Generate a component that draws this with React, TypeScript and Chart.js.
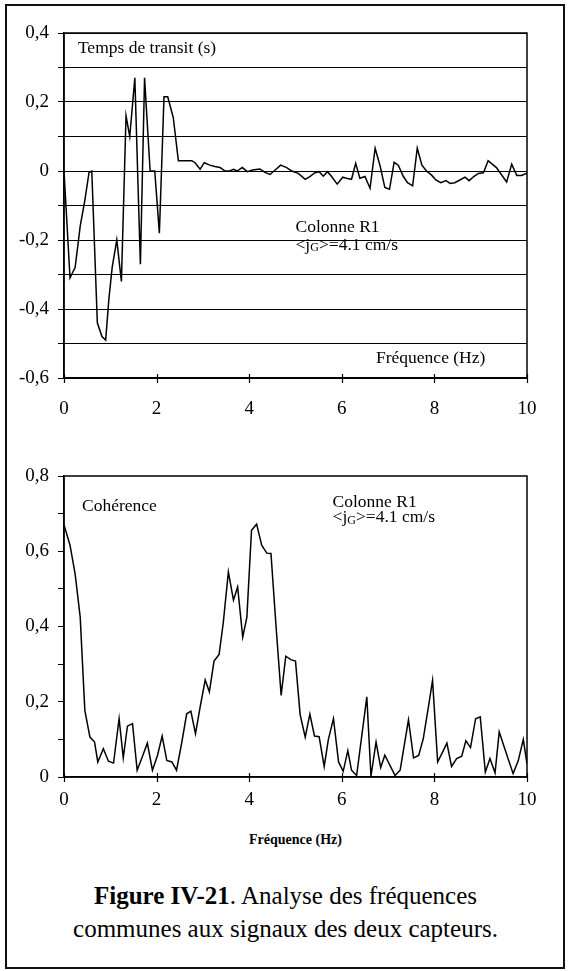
import React, { useEffect, useRef } from 'react';
import { Chart, registerables } from 'chart.js';

Chart.register(...registerables);

// ---------- data ----------
const transitFreq = [0, 0.13, 0.24, 0.35, 0.45, 0.54, 0.6, 0.72, 0.82, 0.9, 0.97, 1.04, 1.14, 1.24, 1.34, 1.42, 1.53, 1.65, 1.74, 1.86, 1.96, 2.06, 2.16, 2.24, 2.36, 2.47, 2.6, 2.76, 2.83, 2.94, 3.03, 3.15, 3.26, 3.37, 3.48, 3.58, 3.66, 3.74, 3.85, 3.96, 4.07, 4.23, 4.34, 4.45, 4.56, 4.68, 4.81, 4.92, 5.06, 5.21, 5.31, 5.42, 5.51, 5.6, 5.69, 5.78, 5.9, 6.02, 6.1, 6.21, 6.3, 6.39, 6.5, 6.61, 6.72, 6.83, 6.93, 7.03, 7.13, 7.22, 7.33, 7.42, 7.53, 7.63, 7.73, 7.83, 7.94, 8.03, 8.14, 8.25, 8.34, 8.44, 8.55, 8.66, 8.75, 8.85, 8.95, 9.06, 9.16, 9.34, 9.56, 9.67, 9.78, 9.88, 10.0];
const transitValues = [0, -0.31, -0.28, -0.16, -0.085, -0.005, 0, -0.44, -0.48, -0.49, -0.37, -0.28, -0.2, -0.32, 0.16, 0.1, 0.27, -0.27, 0.27, 0, 0, -0.18, 0.215, 0.215, 0.155, 0.03, 0.03, 0.03, 0.024, 0.005, 0.024, 0.017, 0.013, 0.01, 0, 0, 0.005, 0, 0.01, -0.002, 0.003, 0.006, -0.004, -0.01, 0.003, 0.017, 0.01, 0, -0.007, -0.024, -0.016, -0.005, -0.002, -0.015, -0.002, -0.016, -0.038, -0.018, -0.021, -0.024, 0.022, -0.021, -0.016, -0.05, 0.066, 0.013, -0.048, -0.053, 0.025, 0.017, -0.016, -0.034, -0.043, 0.066, 0.017, 0, -0.012, -0.026, -0.034, -0.028, -0.036, -0.034, -0.026, -0.018, -0.028, -0.016, -0.007, -0.005, 0.03, 0.01, -0.032, 0.02, -0.013, -0.013, -0.006];

const cohFreq = [0, 0.13, 0.24, 0.35, 0.45, 0.56, 0.66, 0.73, 0.85, 0.96, 1.07, 1.19, 1.28, 1.37, 1.48, 1.58, 1.69, 1.8, 1.91, 2.02, 2.12, 2.22, 2.33, 2.43, 2.54, 2.65, 2.74, 2.84, 2.94, 3.05, 3.14, 3.24, 3.35, 3.44, 3.55, 3.66, 3.75, 3.86, 3.95, 4.05, 4.16, 4.27, 4.38, 4.47, 4.58, 4.69, 4.79, 4.9, 5.0, 5.1, 5.21, 5.31, 5.41, 5.51, 5.62, 5.71, 5.82, 5.93, 6.03, 6.13, 6.21, 6.32, 6.43, 6.54, 6.63, 6.74, 6.84, 6.93, 7.04, 7.15, 7.26, 7.44, 7.55, 7.66, 7.76, 7.87, 7.96, 8.07, 8.16, 8.27, 8.37, 8.48, 8.59, 8.68, 8.78, 8.89, 8.99, 9.1, 9.2, 9.31, 9.4, 9.52, 9.7, 9.81, 9.92, 10.0];
const cohValues = [0.67, 0.616, 0.54, 0.425, 0.177, 0.106, 0.093, 0.04, 0.075, 0.042, 0.037, 0.155, 0.051, 0.135, 0.142, 0.018, 0.053, 0.09, 0.018, 0.058, 0.109, 0.044, 0.04, 0.018, 0.089, 0.168, 0.175, 0.115, 0.186, 0.258, 0.226, 0.308, 0.326, 0.41, 0.545, 0.47, 0.505, 0.372, 0.425, 0.656, 0.672, 0.616, 0.595, 0.594, 0.4, 0.217, 0.321, 0.312, 0.308, 0.166, 0.106, 0.167, 0.109, 0.107, 0.028, 0.1, 0.155, 0.04, 0.015, 0.07, 0.018, 0.004, 0.108, 0.213, 0.002, 0.093, 0.025, 0.058, 0.031, 0.004, 0.018, 0.152, 0.051, 0.057, 0.102, 0.186, 0.257, 0.04, 0.062, 0.09, 0.028, 0.049, 0.055, 0.096, 0.078, 0.155, 0.16, 0.013, 0.049, 0.011, 0.12, 0.075, 0.009, 0.043, 0.1, 0.035];

const xMin = 0;
const xMax = 10;
const xStep = 2;
const topYMin = -0.6;
const topYMax = 0.4;
const botYMin = 0;
const botYMax = 0.8;
const yStep = 0.1;

const SERIF = '"Liberation Serif", "Times New Roman", serif';
const TICK_SIZE = 19;
const NOTE_SIZE = 17.5;

type Note = { x: number; y: number; text: string; align?: CanvasTextAlign; sub?: [string, string, string]; bold?: boolean; size?: number };

function fmt(v: number): string {
  const r = Math.round(v * 10) / 10;
  return String(r === 0 ? 0 : r).replace('.', ',');
}

function makePlugin(notes: Note[]) {
  return {
    id: 'frameNotes',
    afterDraw(chart: any) {
      const { ctx, chartArea: a, scales } = chart;
      ctx.save();
      ctx.strokeStyle = '#000';
      ctx.lineWidth = 1.5;
      ctx.strokeRect(a.left, a.top, a.right - a.left, a.bottom - a.top);
      const xs = scales.x;
      ctx.lineWidth = 1.2;
      for (const t of xs.ticks) {
        const px = Math.round(xs.getPixelForValue(t.value)) + 0.5;
        ctx.beginPath();
        ctx.moveTo(px, a.bottom - 4);
        ctx.lineTo(px, a.bottom + 5);
        ctx.stroke();
      }
      ctx.fillStyle = '#000';
      ctx.textBaseline = 'middle';
      for (const n of notes) {
        const size = n.size ?? NOTE_SIZE;
        const px = xs.getPixelForValue(n.x);
        const py = scales.y.getPixelForValue(n.y);
        ctx.textAlign = n.align ?? 'left';
        if (n.sub) {
          ctx.textAlign = 'left';
          const [a1, s, a2] = n.sub;
          ctx.font = `${size}px ${SERIF}`;
          ctx.fillText(a1, px, py);
          let w = ctx.measureText(a1).width;
          ctx.font = `${Math.round(size * 0.68)}px ${SERIF}`;
          ctx.fillText(s, px + w, py + 3);
          w += ctx.measureText(s).width;
          ctx.font = `${size}px ${SERIF}`;
          ctx.fillText(a2, px + w, py);
        } else {
          ctx.font = `${n.bold ? 'bold ' : ''}${size}px ${SERIF}`;
          ctx.fillText(n.text, px, py);
        }
      }
      ctx.restore();
    },
  };
}

function makeConfig(
  freq: number[],
  values: number[],
  yMin: number,
  yMax: number,
  gridOnArea: boolean,
  canvasH: number,
  areaTop: number,
  areaBottom: number,
  xLabelPad: number,
  notes: Note[]
): any {
  return {
    type: 'line',
    data: {
      datasets: [
        {
          data: freq.map((f, i) => ({ x: f, y: values[i] })),
          borderColor: '#000',
          borderWidth: 1.5,
          pointRadius: 0,
          tension: 0,
          fill: false,
        },
      ],
    },
    options: {
      responsive: false,
      maintainAspectRatio: false,
      animation: false,
      layout: { padding: { left: 0, right: 44, top: areaTop, bottom: 0 } },
      plugins: { legend: { display: false }, tooltip: { enabled: false } },
      scales: {
        x: {
          type: 'linear',
          min: xMin,
          max: xMax,
          afterFit: (s: any) => {
            s.height = canvasH - areaBottom;
          },
          ticks: {
            stepSize: xStep,
            color: '#000',
            font: { family: SERIF, size: TICK_SIZE },
            padding: xLabelPad,
            maxRotation: 0,
          },
          grid: { drawOnChartArea: false, drawTicks: false },
          border: { display: true, color: '#000', width: 1.5 },
        },
        y: {
          type: 'linear',
          min: yMin,
          max: yMax,
          afterFit: (s: any) => {
            s.width = 64;
          },
          ticks: {
            stepSize: yStep,
            autoSkip: false,
            color: '#000',
            font: { family: SERIF, size: TICK_SIZE },
            padding: 9,
            callback: (v: number) => (Math.round(v * 10) % 2 === 0 ? fmt(v) : ''),
          },
          grid: { color: '#000', lineWidth: 1, tickLength: 6, drawOnChartArea: gridOnArea },
          border: { display: true, color: '#000', width: 1.5 },
        },
      },
    },
    plugins: [makePlugin(notes)],
  };
}

const topNotes: Note[] = [
  { x: 0.3, y: 0.354, text: 'Temps de transit (s)' },
  { x: 5.0, y: -0.163, text: 'Colonne R1' },
  { x: 5.0, y: -0.215, text: '', sub: ['<j', 'G', '>=4.1 cm/s'] },
  { x: 9.1, y: -0.543, text: 'Fréquence (Hz)', align: 'right' },
];

const botNotes: Note[] = [
  { x: 0.39, y: 0.718, text: 'Cohérence' },
  { x: 5.8, y: 0.729, text: 'Colonne R1' },
  { x: 5.8, y: 0.689, text: '', sub: ['<j', 'G', '>=4.1 cm/s'] },
];

export default function App() {
  const topRef = useRef<HTMLCanvasElement>(null);
  const botRef = useRef<HTMLCanvasElement>(null);

  useEffect(() => {
    const c1 = new Chart(
      topRef.current as HTMLCanvasElement,
      makeConfig(transitFreq, transitValues, topYMin, topYMax, true, 430, 33, 378, 20, topNotes)
    );
    const c2 = new Chart(
      botRef.current as HTMLCanvasElement,
      makeConfig(cohFreq, cohValues, botYMin, botYMax, false, 380, 36, 337, 12, botNotes)
    );
    return () => {
      c1.destroy();
      c2.destroy();
    };
  }, []);

  return (
    <div style={{ position: 'absolute', left: 0, top: 0, width: 571, height: 971, background: '#fff', overflow: 'hidden' }}>
      <div
        style={{
          position: 'absolute',
          left: 5,
          top: 4,
          width: 560,
          height: 965,
          border: '2px solid #111',
          boxSizing: 'border-box',
        }}
      />
      <canvas ref={topRef} width={571} height={430} style={{ position: 'absolute', left: 0, top: 0, width: 571, height: 430 }} />
      <canvas ref={botRef} width={571} height={380} style={{ position: 'absolute', left: 0, top: 440, width: 571, height: 380 }} />
      <div
        style={{
          position: 'absolute',
          left: 64,
          width: 463,
          top: 830,
          textAlign: 'center',
          fontFamily: SERIF,
          fontSize: 14,
          fontWeight: 'bold',
          lineHeight: '20px',
          color: '#000',
        }}
      >
        Fréquence (Hz)
      </div>
      <div
        style={{
          position: 'absolute',
          left: 0,
          width: 571,
          top: 879,
          textAlign: 'center',
          fontFamily: SERIF,
          fontSize: 25,
          lineHeight: '33px',
          color: '#000',
        }}
      >
        <div>
          <b>Figure IV-21</b>. Analyse des fréquences
        </div>
        <div>communes aux signaux des deux capteurs.</div>
      </div>
    </div>
  );
}
